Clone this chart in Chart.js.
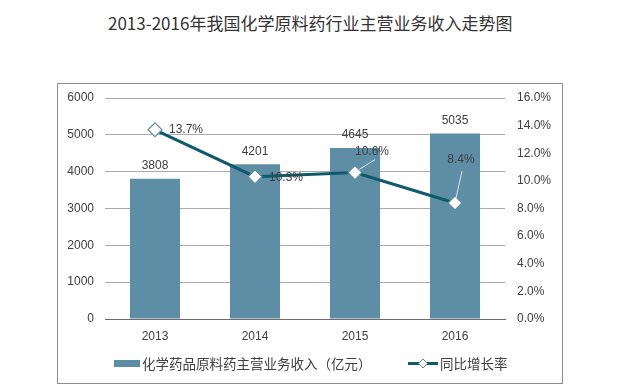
<!DOCTYPE html>
<html>
<head>
<meta charset="utf-8">
<script src="https://cdn.jsdelivr.net/npm/chart.js@4/dist/chart.umd.min.js"></script>
<style>
html,body{margin:0;padding:0;background:#fff;}
#wrap{position:relative;width:625px;height:386px;}
#title{position:absolute;left:108px;top:12px;font:17px "Noto Sans CJK SC","Noto Sans",sans-serif;color:#333;white-space:nowrap;line-height:22px;}
canvas{position:absolute;left:0;top:0;}
</style>
</head>
<body>
<div id="wrap">
<div id="title">2013-2016年我国化学原料药行业主营业务收入走势图</div>
<canvas id="c" width="625" height="386"></canvas>
</div>
<script>
const years = ['2013', '2014', '2015', '2016'];
const revenue = [3808, 4201, 4645, 5035];
const growth = [13.7, 10.3, 10.6, 8.4];
const barName = '化学药品原料药主营业务收入（亿元）';
const lineName = '同比增长率';

const BAR = '#5d8ea5';
const LINE = '#0f5a6b';
const TXT = '#404040';
const LAT = '"Liberation Sans", Arial, sans-serif';
const CJK = '"Noto Sans CJK SC", sans-serif';

// label placement relative to each point: [dx, dy, align, leader]
const growthLabelStyle = [
  [14, 0, 'left', null],
  [14, 1, 'left', null],
  [0, -21, 'left', [4, -3, 20, -13]],
  [6, -43, 'center', [1, -5, 7, -32]]
];

const overlay = {
  id: 'overlay',
  afterDatasetsDraw(chart) {
    const ctx = chart.ctx;
    ctx.save();
    const bm = chart.getDatasetMeta(1);
    ctx.font = '12px ' + LAT;
    ctx.fillStyle = TXT;
    ctx.textAlign = 'center';
    ctx.textBaseline = 'middle';
    bm.data.forEach((el, i) => {
      ctx.fillText(String(revenue[i]), el.x, el.y - 13);
    });
    const lm = chart.getDatasetMeta(0);
    lm.data.forEach((el, i) => {
      const s = growthLabelStyle[i];
      if (s[3]) {
        ctx.strokeStyle = 'rgba(235,235,235,0.9)';
        ctx.lineWidth = 1;
        ctx.beginPath();
        ctx.moveTo(el.x + s[3][0], el.y + s[3][1]);
        ctx.lineTo(el.x + s[3][2], el.y + s[3][3]);
        ctx.stroke();
      }
      ctx.textAlign = s[2];
      ctx.fillStyle = TXT;
      ctx.fillText(growth[i].toFixed(1) + '%', el.x + s[0], el.y + s[1]);
    });
    ctx.restore();
  },
  afterDraw(chart) {
    const ctx = chart.ctx;
    ctx.save();
    ctx.strokeStyle = '#8c8c8c';
    ctx.lineWidth = 1;
    ctx.strokeRect(57.5, 83.5, 505, 300);
    // legend
    ctx.fillStyle = BAR;
    ctx.fillRect(114, 360, 26, 7);
    ctx.font = '13.5px ' + CJK;
    ctx.fillStyle = TXT;
    ctx.textAlign = 'left';
    ctx.textBaseline = 'middle';
    ctx.fillText(barName, 142, 363.5);
    ctx.strokeStyle = LINE;
    ctx.lineWidth = 3;
    ctx.beginPath();
    ctx.moveTo(408, 363.5);
    ctx.lineTo(438, 363.5);
    ctx.stroke();
    ctx.beginPath();
    ctx.moveTo(423, 359); ctx.lineTo(427.5, 363.5); ctx.lineTo(423, 368); ctx.lineTo(418.5, 363.5); ctx.closePath();
    ctx.fillStyle = '#fff';
    ctx.fill();
    ctx.lineWidth = 1;
    ctx.strokeStyle = BAR;
    ctx.stroke();
    ctx.fillStyle = TXT;
    ctx.fillText(lineName, 440, 363.5);
    ctx.restore();
  }
};

new Chart(document.getElementById('c'), {
  type: 'bar',
  data: {
    labels: years,
    datasets: [
      {
        type: 'line',
        label: lineName,
        data: growth,
        yAxisID: 'y1',
        borderColor: LINE,
        borderWidth: 3,
        pointStyle: 'rectRot',
        pointRadius: 7,
        pointBackgroundColor: '#fff',
        pointBorderColor: BAR,
        pointBorderWidth: 1.2,
        tension: 0,
        order: 0
      },
      {
        type: 'bar',
        label: barName,
        data: revenue,
        yAxisID: 'y',
        backgroundColor: BAR,
        barPercentage: 0.5,
        categoryPercentage: 1,
        order: 1
      }
    ]
  },
  options: {
    responsive: false,
    animation: false,
    layout: { padding: { top: 98, left: 0, right: 0, bottom: 0 } },
    plugins: { legend: { display: false }, tooltip: { enabled: false }, title: { display: false } },
    scales: {
      x: {
        grid: { display: false, drawTicks: false },
        border: { display: true, color: '#6b6b6b', width: 1 },
        ticks: { color: TXT, font: { size: 12, family: LAT }, padding: 10 },
        afterFit(s) { s.height = 67; }
      },
      y: {
        position: 'left',
        min: 0, max: 6000,
        ticks: { stepSize: 1000, color: TXT, font: { size: 12, family: LAT }, padding: 11,
          callback: v => String(v) },
        grid: { color: '#ababab', drawTicks: false, lineWidth: 1 },
        border: { display: false },
        afterFit(s) { s.width = 105; }
      },
      y1: {
        position: 'right',
        min: 0, max: 16,
        ticks: { stepSize: 2, color: TXT, font: { size: 12, family: LAT }, padding: 12,
          callback: v => v.toFixed(1) + '%' },
        grid: { drawOnChartArea: false, drawTicks: false },
        border: { display: false },
        afterFit(s) { s.width = 120; }
      }
    }
  },
  plugins: [overlay]
});
</script>
</body>
</html>
